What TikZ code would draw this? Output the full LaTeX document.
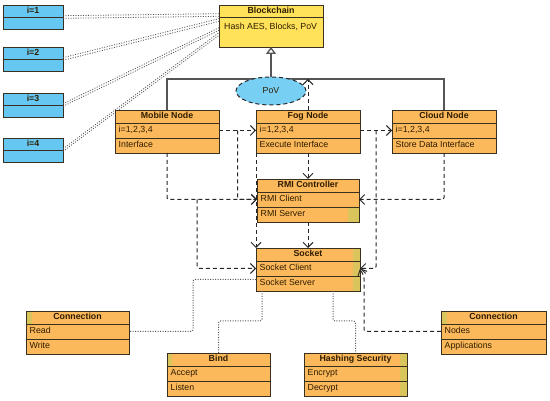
\documentclass[tikz,border=0pt]{standalone}
\usepackage{fontspec}
\setmainfont{Liberation Sans}
\usetikzlibrary{arrows.meta,shapes.geometric,calc}
\definecolor{orng}{HTML}{FBB95C}
\definecolor{tint}{HTML}{D9C55C}
\definecolor{bluec}{HTML}{66C8F2}
\definecolor{povc}{HTML}{78CFF4}
\definecolor{yelc}{HTML}{FFE25A}
\definecolor{boxline}{HTML}{3A3020}
\definecolor{txtc}{HTML}{2E1C00}
\definecolor{conn}{HTML}{262626}
\definecolor{dotc}{HTML}{555555}
\definecolor{busc}{HTML}{555555}
\tikzset{
  clsbox/.style={draw=boxline, line width=0.9pt, inner sep=0pt, outer sep=0pt, minimum height=43pt},
  ibx/.style={draw=boxline, line width=0.9pt, fill=bluec, inner sep=0pt, outer sep=0pt, minimum width=60pt, minimum height=24pt},
  clsline/.style={draw=boxline, line width=0.9pt},
  hdr/.style={font=\fontsize{8.8}{10}\selectfont\bfseries, text=txtc, inner sep=0pt, text height=6.4pt, text depth=1.8pt},
  rowtxt/.style={font=\fontsize{8.8}{10}\selectfont, text=txtc, inner sep=0pt, anchor=west, text height=6.4pt, text depth=1.8pt},
  depline/.style={draw=conn, line width=1pt, dash pattern=on 4pt off 3pt, rounded corners=2pt},
  dep/.style={depline, -{Straight Barb[length=5pt,width=10pt]}},
  dotline/.style={draw=dotc, line width=1pt, dash pattern=on 1pt off 1.5pt, rounded corners=2pt},
  iline/.style={draw=dotc, line width=0.8pt, dash pattern=on 1pt off 1.5pt},
  busline/.style={draw=busc, line width=1.3pt},
  gen/.style={draw=busc, line width=1.3pt, -{Triangle[open,length=7pt,width=10pt]}},
}
\newcommand{\umlcls}[9]{%
  \node[clsbox, fill=#5, minimum width=#4pt, anchor=north west] (#1) at (#2,#3) {};
  #9
  \draw[clsline] (#1.south west) rectangle (#1.north east);
  \draw[clsline] ([yshift=-13pt]#1.north west) -- ([yshift=-13pt]#1.north east);
  \draw[clsline] ([yshift=-28pt]#1.north west) -- ([yshift=-28pt]#1.north east);
  \node[hdr] (#1h) at ([yshift=-6.5pt]#1.north) {#6};
  \coordinate (#1-1w) at ([yshift=-20.5pt]#1.north west);
  \coordinate (#1-1e) at ([yshift=-20.5pt]#1.north east);
  \coordinate (#1-2w) at ([yshift=-35.5pt]#1.north west);
  \coordinate (#1-2e) at ([yshift=-35.5pt]#1.north east);
  \node[rowtxt] (#1r1) at ([xshift=3.5pt]#1-1w) {#7};
  \node[rowtxt] (#1r2) at ([xshift=3.5pt]#1-2w) {#8};
}
\newcommand{\ibox}[3]{%
  \node[ibx, anchor=north west] (#1) at (3,#2) {};
  \draw[clsline] ([yshift=-12pt]#1.north west) -- ([yshift=-12pt]#1.north east);
  \node[hdr] (#1h) at ([yshift=-6pt]#1.north) {#3};
  \coordinate (#1-e) at ([yshift=-12pt]#1.north east);
}
\begin{document}
\begin{tikzpicture}[x=1pt,y=-1pt]
\fill[white] (0,0) rectangle (550,401);
\useasboundingbox (0,0) rectangle (550,401);

% Blockchain
\node[draw=boxline, line width=0.9pt, fill=yelc, inner sep=0pt, outer sep=0pt,
      minimum width=104pt, minimum height=42pt, anchor=north west] (bc) at (219,5) {};
\draw[clsline] ([yshift=-12pt]bc.north west) -- ([yshift=-12pt]bc.north east);
\node[hdr] (bch) at ([yshift=-6pt]bc.north) {Blockchain};
\node[rowtxt] (bcr) at (224,27) {Hash AES, Blocks, PoV};

% i boxes
\ibox{i1}{5}{i=1}
\ibox{i2}{47}{i=2}
\ibox{i3}{93}{i=3}
\ibox{i4}{138}{i=4}

\coordinate (bcA) at ([yshift=-10pt]bc.north west);
\coordinate (bcB) at ([yshift=-15pt]bc.north west);
\coordinate (bcC) at ([yshift=-24pt]bc.north west);
\coordinate (bcD) at ([yshift=-29pt]bc.north west);
\foreach \a/\b in {i1/bcA, i2/bcB, i3/bcC, i4/bcD}{
  \draw[iline] ([yshift=1.3pt]\a-e) -- ([yshift=1.3pt]\b);
  \draw[iline] ([yshift=-1.3pt]\a-e) -- ([yshift=-1.3pt]\b);
}

% middle row
\umlcls{mob}{115}{110}{104}{orng}{Mobile Node}{i=1,2,3,4}{Interface}{}
\umlcls{fog}{256}{110}{104}{orng}{Fog Node}{i=1,2,3,4}{Execute Interface}{}
\umlcls{cloud}{392}{110}{104}{orng}{Cloud Node}{i=1,2,3,4}{Store Data Interface}{}
\umlcls{sock}{256}{248}{104}{orng}{Socket}{Socket Client}{Socket Server}{\fill[tint] ([xshift=-7.5pt]sock.north east) rectangle (sock.south east);}

% line from fog bottom-left to socket (passes behind RMI)
\draw[dep] (fog.south west) -- (sock.north west);

\umlcls{rmi}{257}{179}{102}{orng}{RMI Controller}{RMI Client}{RMI Server}{\fill[tint] ([xshift=-11pt,yshift=-28pt]rmi.north east) rectangle (rmi.south east);}

% bottom row
\umlcls{conL}{26}{311}{103}{orng}{Connection}{Read}{Write}{\fill[tint] (conL.north west) rectangle ([xshift=5.5pt,yshift=-13pt]conL.north west);}
\umlcls{bind}{167}{353}{103}{orng}{Bind}{Accept}{Listen}{\fill[tint] (bind.north west) rectangle ([xshift=5pt,yshift=-13pt]bind.north west);}
\umlcls{hash}{304}{353}{103}{orng}{Hashing Security}{Encrypt}{Decrypt}{\fill[tint] ([xshift=-7pt]hash.north east) rectangle (hash.south east);}
\umlcls{conR}{441}{311}{105}{orng}{Connection}{Nodes}{Applications}{\fill[tint] (conR.north west) rectangle ([xshift=6pt,yshift=-13pt]conR.north west);}

% generalisation bus
\draw[busline] (mob.north) -- ++(0,-31) -| (cloud.north);
\coordinate (bus) at (bc.south |- 0,79);
\draw[gen] (bus) -- (bc.south);
\node[ellipse, draw=conn, line width=1pt, dash pattern=on 4pt off 3pt, fill=povc,
      minimum width=70pt, minimum height=28pt, inner sep=0pt,
      font=\fontsize{8.8}{10}\selectfont, text=txtc] (pov) at (271,91) {PoV};
\draw[dep] (fog.north) -- (fog.north |- bus);

% dependencies
\draw[dep] (mob-1e) -- (fog-1w);
\coordinate (j1) at ($(mob-1e)!0.5!(fog-1w)$);
\draw[dep] (j1) |- (rmi-1w);
\draw[dep] (mob.south) |- (rmi-1w);
\coordinate (j2) at ($(mob.south |- rmi-1w)+(30,0)$);
\draw[dep] (j2) |- (sock-1w);
\draw[dep] (fog.south) -- (rmi.north);
\draw[dep] (rmi.south) -- (sock.north);
\draw[dep] (fog-1e) -- (cloud-1w);
\coordinate (j3) at ($(fog-1e)!0.5!(cloud-1w)$);
\draw[dep] (j3) |- (sock-1e);
\draw[dep] (cloud.south) |- (rmi-1e);
\draw[dep] (conR-1w) -| ($(sock-1e)+(4,8)$) -- (sock-1e);

% dotted associations
\draw[dotline] ($(sock-2w)+(0,-4)$) -| ([xshift=64pt]conL-1e) -- (conL-1e);
\draw[dotline] ([xshift=6pt]sock.south west) |- ($(bind.north)+(0,-32)$) -- (bind.north);
\draw[dotline] ([xshift=-27pt]sock.south east) |- ($(hash.north)+(0,-32)$) -- (hash.north);
\end{tikzpicture}
\end{document}
